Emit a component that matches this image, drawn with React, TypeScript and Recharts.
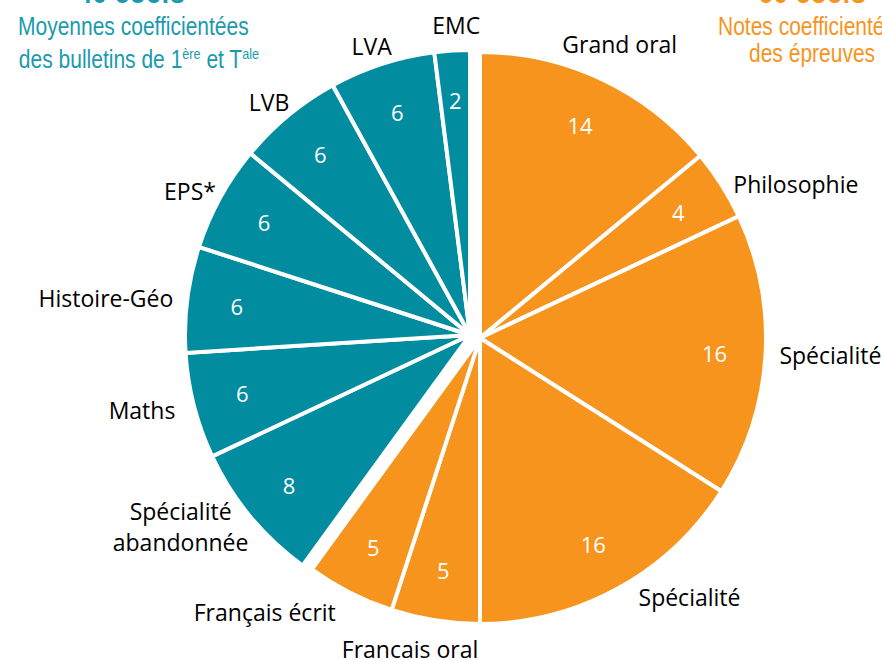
import React from "react";
import { PieChart, Pie, Cell } from "recharts";

const epreuveLabels = ["Grand oral", "Philosophie", "Spécialité", "Spécialité", "Francais oral", "Français écrit"];
const epreuveValues = [14, 4, 16, 16, 5, 5];

const bulletinLabels = ["Spécialité\nabandonnée", "Maths", "Histoire-Géo", "EPS*", "LVB", "LVA", "EMC"];
const bulletinValues = [8, 6, 6, 6, 6, 6, 2];

// small hand nudges of the outside labels (like the manual placement of the original)
const epreuveNudge = [[12, -8], [0, 7], [0, -2], [14, -4], [-23, -1], [-8, 7]];
const bulletinNudge = [[3, 1], [-5, 1], [0, 0], [8, 0], [10, -3], [-6, 11], [5, 4]];

const ORANGE = "#F7941E";
const TEAL = "#028C9F";
const RAD = Math.PI / 180;
const LABEL_FONT = "'Open Sans', 'Noto Sans', sans-serif";

const epreuveData = epreuveLabels.map((name, i) => ({ name, value: epreuveValues[i] }));
const bulletinData = bulletinLabels.map((name, i) => ({ name, value: bulletinValues[i] }));

const makeLabel = (nudges: number[][]) => (props: any) => {
    const { cx, cy, midAngle, outerRadius, value, name, index } = props;
    const ux = Math.cos(-midAngle * RAD);
    const uy = Math.sin(-midAngle * RAD);

    // value inside the slice
    const ir = 235;
    const ix = cx + ir * ux;
    const iy = cy + ir * uy;

    // category outside
    const orr = outerRadius + 14;
    let ox = cx + orr * ux;
    let oy = cy + orr * uy;
    let anchor: "start" | "middle" | "end" = ux > 0 ? "start" : "end";
    if (Math.abs(ux) < 0.45) {
        anchor = "middle";
        oy += uy * 16;
    }
    const lines = String(name).split("\n");
    if (lines.length > 1 && anchor === "end") {
        anchor = "middle";
        ox -= 62;
    }
    const [nx, ny] = nudges[index] || [0, 0];
    ox += nx;
    oy += ny;
    const lh = 31;
    const y0 = oy - ((lines.length - 1) * lh) / 2;

    return (
        <g>
            <text x={ix} y={iy} fill="#fff" fontSize={22} fontFamily={LABEL_FONT} textAnchor="middle" dominantBaseline="central">
                {value}
            </text>
            <text x={ox} y={y0} fill="#000" fontSize={23} fontFamily={LABEL_FONT} textAnchor={anchor} dominantBaseline="central">
                {lines.map((l, i) => (
                    <tspan key={i} x={ox} dy={i === 0 ? 0 : lh}>
                        {l}
                    </tspan>
                ))}
            </text>
        </g>
    );
};

const headFont = "'Liberation Sans Narrow', 'Liberation Sans', Arial, sans-serif";

function Line({ top, size, bold, children }: any) {
    return (
        <div style={{ position: "absolute", top, width: "100%", fontSize: size, lineHeight: `${size + 4}px`, fontWeight: bold ? 700 : 400, whiteSpace: "nowrap" }}>
            <span style={{ display: "inline-block", transform: "scaleX(0.84)" }}>{children}</span>
        </div>
    );
}

function Header({ color, left, width, title, line1, line2 }: any) {
    return (
        <div style={{ position: "absolute", left, top: 0, width, textAlign: "center", color, fontFamily: headFont }}>
            <Line top={-26} size={32} bold>
                {title}
            </Line>
            <Line top={12} size={25}>
                {line1}
            </Line>
            <Line top={39} size={25}>
                {line2}
            </Line>
        </div>
    );
}

export default function App() {
    return (
        <div style={{ position: "fixed", left: 0, top: 0, width: 882, height: 660, overflow: "hidden", background: "#fff" }}>
            <PieChart width={882} height={660} margin={{ top: 0, right: 0, bottom: 0, left: 0 }}>
                <Pie
                    data={epreuveData}
                    dataKey="value"
                    nameKey="name"
                    cx={480}
                    cy={338}
                    outerRadius={286}
                    startAngle={90}
                    endAngle={-126}
                    stroke="#fff"
                    strokeWidth={4}
                    label={makeLabel(epreuveNudge)}
                    labelLine={false}
                    isAnimationActive={false}
                >
                    {epreuveData.map((d, i) => (
                        <Cell key={i} fill={ORANGE} />
                    ))}
                </Pie>
                <Pie
                    data={bulletinData}
                    dataKey="value"
                    nameKey="name"
                    cx={470}
                    cy={335}
                    outerRadius={285}
                    startAngle={-126}
                    endAngle={-270}
                    stroke="#fff"
                    strokeWidth={4}
                    label={makeLabel(bulletinNudge)}
                    labelLine={false}
                    isAnimationActive={false}
                >
                    {bulletinData.map((d, i) => (
                        <Cell key={i} fill={TEAL} />
                    ))}
                </Pie>
            </PieChart>
            <Header
                color="#1A9AAD"
                left={-4}
                width={270}
                title="40 coefs"
                line1="Moyennes coefficientées"
                line2={
                    <span>
                        des bulletins de 1<sup style={{ fontSize: 15 }}>ère</sup> et T<sup style={{ fontSize: 15 }}>ale</sup>
                    </span>
                }
            />
            <Header color={ORANGE} left={697} width={230} title="60 coefs" line1="Notes coefficientées" line2="des épreuves" />
        </div>
    );
}
